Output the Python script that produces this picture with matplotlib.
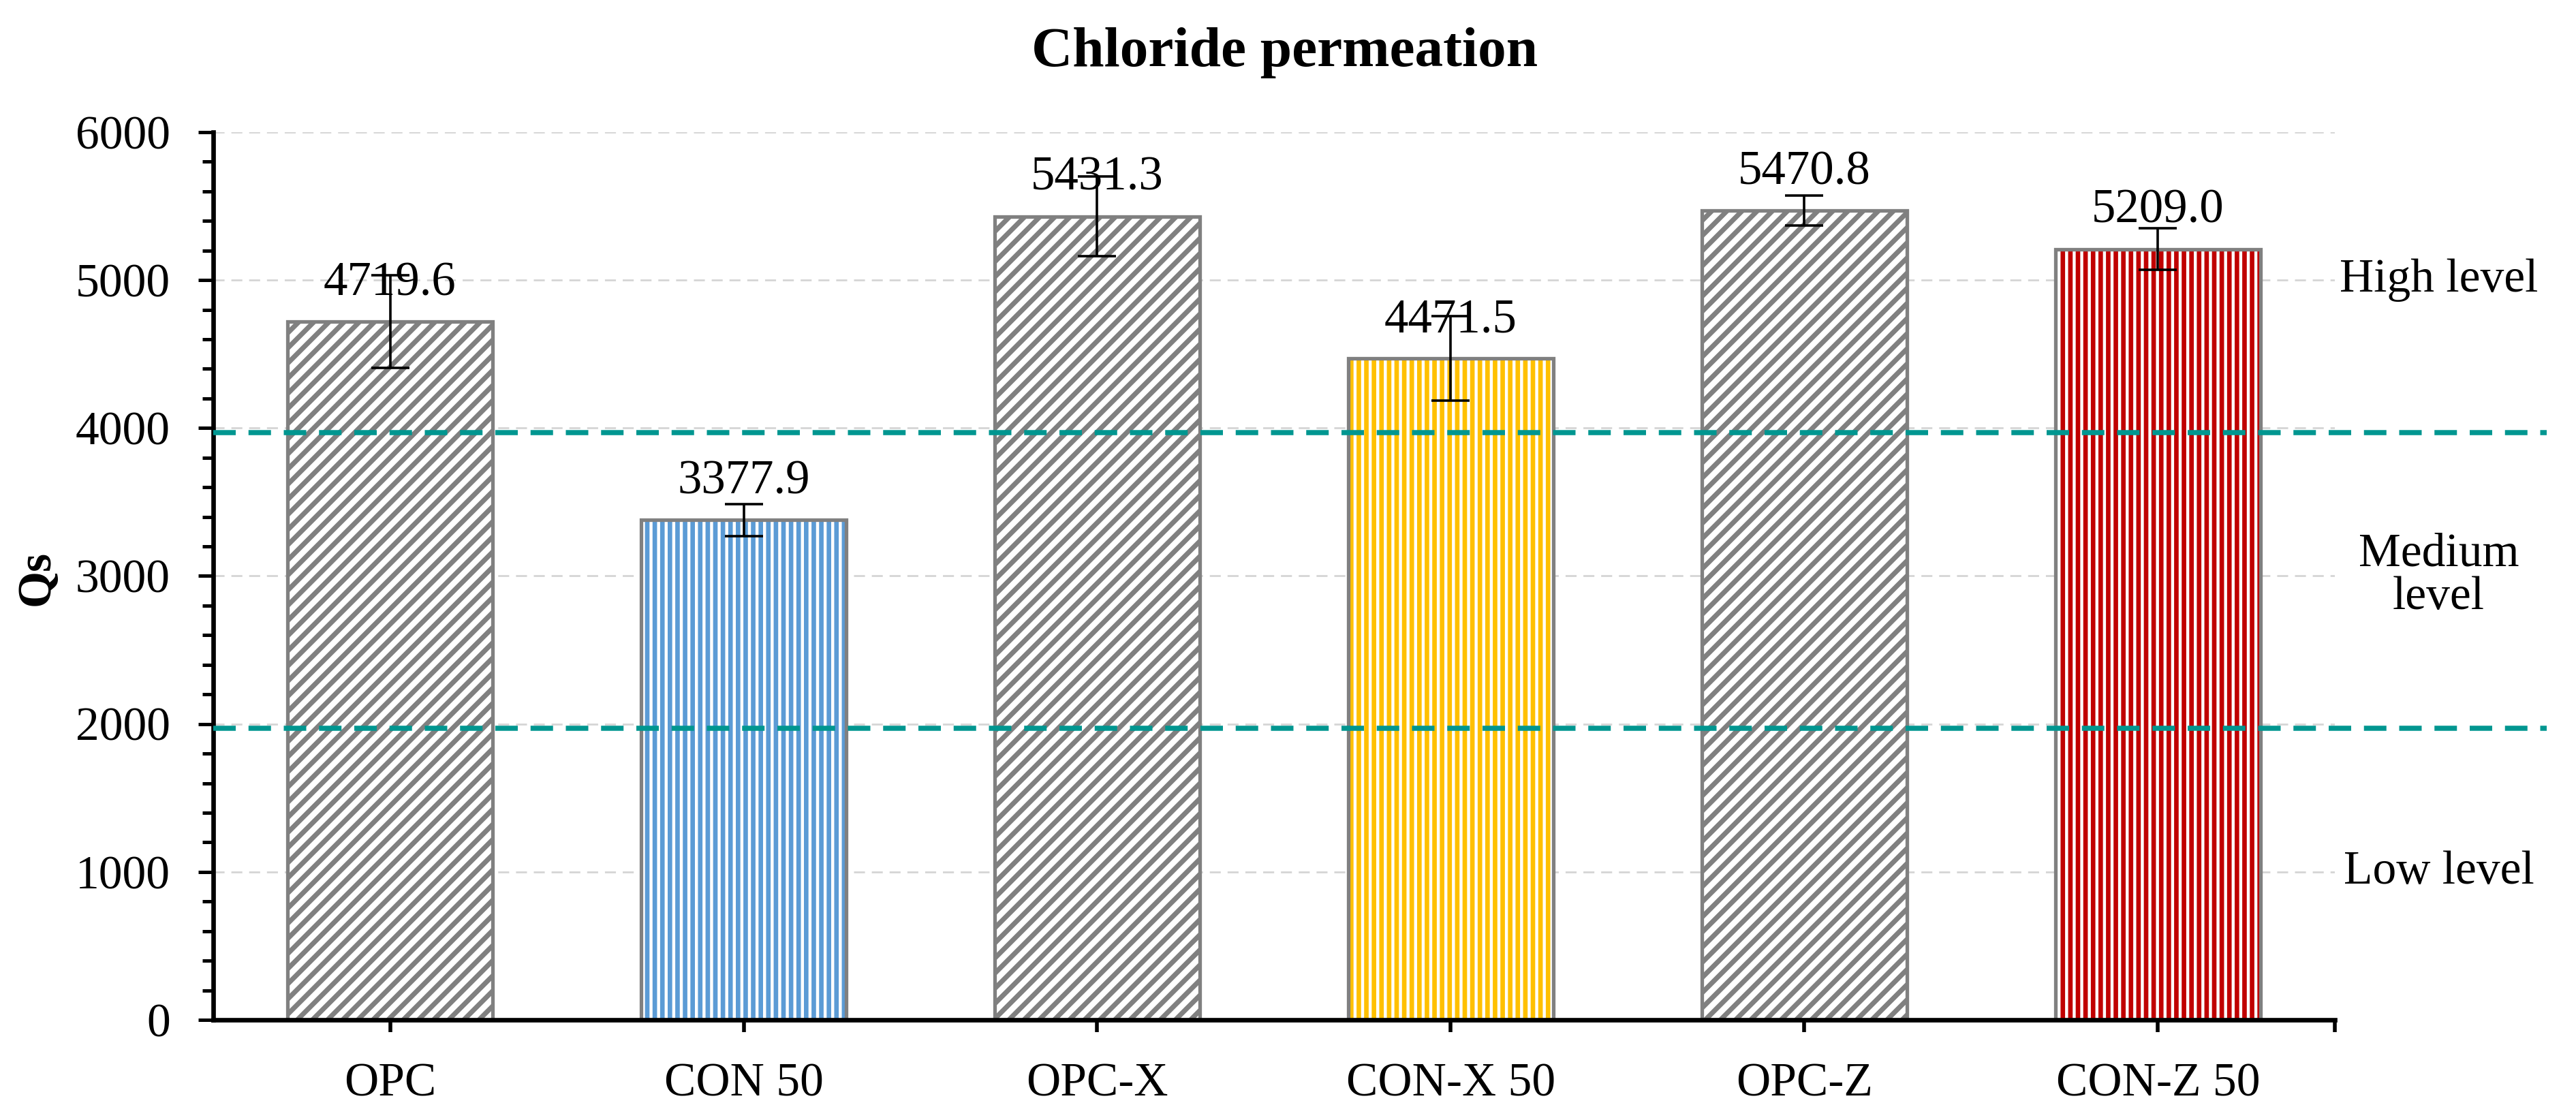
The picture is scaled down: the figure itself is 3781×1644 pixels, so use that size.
import matplotlib
matplotlib.use("Agg")
import matplotlib.pyplot as plt
import matplotlib.transforms as mtransforms
from matplotlib.ticker import MultipleLocator, FixedLocator

# ---- data ----
categories = ["OPC", "CON 50", "OPC-X", "CON-X 50", "OPC-Z", "CON-Z 50"]
values = [4719.6, 3377.9, 5431.3, 4471.5, 5470.8, 5209.0]
errors = [315, 110, 270, 285, 100, 140]
hatch_colors = ["#808080", "#5B9BD5", "#808080", "#FFC000", "#808080", "#C00000"]
hatches = ["///", "|||", "///", "|||", "///", "|||"]
level_lines = [3970, 1970]
level_labels = ["High level", "Medium\nlevel", "Low level"]
level_label_y = [5000, 3000, 1000]

plt.rcParams['font.family'] = ['Liberation Serif', 'DejaVu Serif']

W, H = 3781, 1644
DPI = 200
fig = plt.figure(figsize=(W / DPI, H / DPI), dpi=DPI)
ax_left, ax_right, ax_top, ax_bot = 313, 3427, 194, 1497
ax = fig.add_axes([ax_left / W, 1 - ax_bot / H, (ax_right - ax_left) / W, (ax_bot - ax_top) / H])

x = list(range(len(categories)))
width = 0.58
for xi, v, hc, h in zip(x, values, hatch_colors, hatches):
    lw_h = 2.6 if h == "///" else 2.4
    with plt.rc_context({'hatch.linewidth': lw_h}):
        bars = ax.bar(xi, v, width, color="white", edgecolor=hc, hatch=h, linewidth=0, zorder=2)
    for p in bars:
        if hasattr(p, "set_hatch_linewidth"):
            p.set_hatch_linewidth(lw_h)
ax.bar(x, values, width, fill=False, edgecolor="#808080", linewidth=1.9, zorder=2.5)

ax.errorbar(x, values, yerr=errors, fmt="none", ecolor="black", elinewidth=1.3,
            capsize=10, capthick=1.3, zorder=4)

for xi, v in zip(x, values):
    ax.annotate(f"{v:.1f}", xy=(xi, v), xytext=(0, 14), textcoords="offset points",
                ha="center", va="baseline", fontsize=25.5, zorder=3.5)

trans = mtransforms.blended_transform_factory(ax.transAxes, ax.transData)
for yl in level_lines:
    ax.plot([0, 1.10], [yl, yl], transform=trans, clip_on=False, color="#009690",
            linewidth=2.7, dashes=(4.4, 2.5), zorder=3)

for lab, yy in zip(level_labels, level_label_y):
    ax.text(1.049, yy, lab, transform=trans, ha="center", va="center",
            multialignment="center", linespacing=1.0, fontsize=25)

ax.set_xlim(-0.5, len(categories) - 0.5)
ax.set_ylim(0, 6000)
ax.set_xticks(x)
ax.set_xticklabels(categories, fontsize=25)
ax.xaxis.set_minor_locator(FixedLocator([len(categories) - 0.5]))
ax.yaxis.set_major_locator(MultipleLocator(1000))
ax.yaxis.set_minor_locator(MultipleLocator(200))
ax.tick_params(axis="y", which="major", length=7.8, width=1.8, labelsize=25, pad=15, direction="out")
ax.tick_params(axis="y", which="minor", length=5.6, width=1.8, direction="out")
ax.tick_params(axis="x", which="both", length=6.5, width=2.0, labelsize=25, pad=16, direction="out")

for s in ["top", "right"]:
    ax.spines[s].set_visible(False)
for s in ["left", "bottom"]:
    ax.spines[s].set_linewidth(2.4)
    ax.spines[s].set_color("black")

ax.set_axisbelow(True)
ax.grid(axis="y", which="major", color="#D5D5D5", linewidth=1.0, linestyle=(0, (5.8, 3.6)))

fig.text(1886 / W, 1 - 97 / H, "Chloride permeation", ha="center", va="baseline",
         fontsize=30, fontweight="bold")
fig.text(55 / W, 1 - 848 / H, "Qs", ha="center", va="center", rotation=90,
         fontsize=25, fontweight="bold")

fig.savefig("out.png", dpi=DPI)
